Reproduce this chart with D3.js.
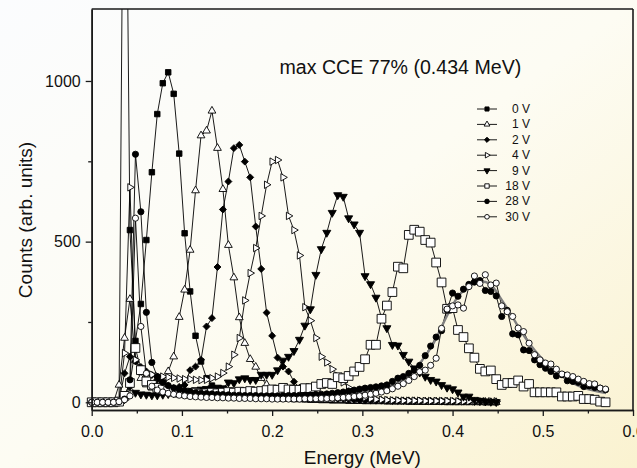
<!DOCTYPE html>
<html>
<head>
<meta charset="utf-8">
<script src="https://cdn.jsdelivr.net/npm/d3@7"></script>
<style>
  html, body { margin: 0; padding: 0; }
  body { width: 637px; height: 468px; overflow: hidden; }
  svg { display: block; font-family: "Liberation Sans", Arial, sans-serif; }
</style>
</head>
<body>
<svg id="chart" width="637" height="468"></svg>
<script>
// channel energies (MeV)
var energy = [
  0, 0.0061, 0.0121, 0.0182, 0.0242, 0.0303, 0.0364, 0.0424, 0.0485, 0.0545,
  0.0606, 0.0667, 0.0727, 0.0788, 0.0848, 0.0909, 0.0970, 0.1030, 0.1091, 0.1151,
  0.1212, 0.1273, 0.1333, 0.1394, 0.1454, 0.1515, 0.1576, 0.1636, 0.1697, 0.1757,
  0.1818, 0.1879, 0.1939, 0.2000, 0.2060, 0.2121, 0.2182, 0.2242, 0.2303, 0.2363,
  0.2424, 0.2485, 0.2545, 0.2606, 0.2666, 0.2727, 0.2788, 0.2848, 0.2909, 0.2969,
  0.3030, 0.3091, 0.3151, 0.3212, 0.3272, 0.3333, 0.3394, 0.3454, 0.3515, 0.3575,
  0.3636, 0.3697, 0.3757, 0.3818, 0.3878, 0.3939, 0.4000, 0.4060, 0.4121, 0.4181,
  0.4242, 0.4303, 0.4363, 0.4424, 0.4484, 0.4545, 0.4606, 0.4666, 0.4727, 0.4787,
  0.4848, 0.4909, 0.4969, 0.5030, 0.5090, 0.5151, 0.5212, 0.5272, 0.5333, 0.5393,
  0.5454, 0.5515, 0.5575, 0.5636, 0.5696
];

// counts per channel for each bias voltage
var counts0V = [
  0, 0, 0, 0, 0, 2, 2300, 536, 191, 306,
  505, 716, 897, 993, 1027, 960, 774, 526, 345, 207,
  127, 75, 52, 42, 36, 32, 28, 25, 22, 20,
  18, 16, 15, 14, 13, 12, 11, 10, 10, 9,
  8, 8, 7, 7, 6, 6, 6, 5, 5, 5,
  4, 4, 4, 4, 3, 3, 3, 3, 2, 2,
  2, 2, 2, 2, 2, 1, 1, 1, 1, 1,
  1, 1, 0, 0, 0
];
var counts1V = [
  0, 0, 0, 0, 0, 54, 200, 321, 130, 75,
  55, 45, 45, 70, 96, 142, 265, 350, 474, 659,
  830, 845, 907, 791, 663, 489, 388, 264, 184, 134,
  110, 75, 55, 40, 32, 26, 22, 18, 15, 13,
  11, 10, 9, 8, 8, 7, 6, 6, 5, 5,
  5, 4, 4, 4, 4, 3, 3, 3, 3, 3,
  2, 2, 2, 2, 2, 2, 1, 1, 1, 1,
  1, 1, 1, 0, 0
];
var counts2V = [
  0, 0, 0, 0, 0, 5, 90, 142, 127, 110,
  96, 85, 70, 60, 51, 44, 48, 54, 100, 111,
  132, 236, 262, 421, 600, 687, 791, 801, 749, 700,
  547, 415, 279, 207, 139, 111, 96, 64, 45, 35,
  28, 22, 18, 15, 13, 11, 10, 9, 8, 7,
  6, 6, 5, 5, 5, 4, 4, 4, 4, 3,
  3, 3, 3, 3, 2, 2, 2, 2, 2, 2,
  1, 1, 1, 1, 1
];
var counts4V = [
  0, 0, 0, 0, 0, 5, 153, 669, 132, 96,
  91, 86, 82, 80, 78, 76, 74, 72, 72, 70,
  69, 70, 75, 80, 91, 111, 148, 200, 317, 402,
  480, 580, 677, 749, 754, 700, 580, 536, 457, 296,
  254, 200, 142, 124, 103, 82, 62, 45, 32, 22,
  15, 11, 9, 8, 7, 6, 6, 5, 5, 5,
  5, 4, 4, 4, 4, 4, 4, 3, 3, 3,
  3, 3, 3, 3, 3
];
var counts9V = [
  0, 0, 0, 0, 0, 2, 10, 50, 30, 25,
  24, 22, 22, 24, 26, 28, 30, 33, 36, 38,
  40, 42, 44, 46, 44, 62, 60, 72, 75, 70,
  70, 86, 86, 86, 100, 130, 142, 160, 195, 239,
  290, 397, 477, 528, 590, 645, 640, 573, 554, 528,
  393, 368, 326, 262, 231, 179, 177, 148, 127, 106,
  93, 80, 70, 65, 54, 46, 41, 31, 18, 18,
  8, 5, 3, 2, 1
];
var counts18V = [
  0, 0, 0, 0, 0, 2, 20, 60, 169, 100,
  65, 54, 45, 40, 36, 33, 30, 30, 28, 30,
  27, 28, 30, 28, 30, 32, 30, 33, 32, 35,
  33, 35, 38, 40, 39, 45, 40, 39, 39, 44,
  44, 49, 57, 60, 57, 78, 75, 82, 96, 110,
  134, 179, 179, 260, 301, 343, 422, 417, 521, 537,
  531, 505, 497, 435, 373, 291, 293, 225, 203, 168,
  139, 104, 96, 99, 72, 54, 60, 60, 68, 49,
  57, 31, 31, 31, 31, 31, 18, 18, 18, 20,
  10, 10, 8, 2, 0
];
var counts28V = [
  0, 0, 0, 0, 0, 2, 10, 70, 772, 593,
  280, 124, 80, 62, 52, 45, 40, 36, 33, 30,
  28, 27, 26, 25, 24, 23, 22, 22, 21, 21,
  21, 20, 20, 20, 20, 20, 21, 21, 22, 22,
  23, 24, 25, 26, 28, 30, 32, 35, 38, 41,
  44, 46, 48, 51, 54, 65, 75, 80, 90, 100,
  115, 145, 175, 203, 223, 288, 340, 330, 352, 367,
  374, 379, 348, 345, 331, 267, 286, 213, 210, 163,
  161, 132, 117, 106, 96, 82, 86, 67, 65, 62,
  49, 51, 46, 44, 39
];
var counts30V = [
  0, 0, 0, 0, 0, 2, 8, 20, 573, 236,
  90, 50, 38, 32, 28, 25, 22, 20, 18, 17,
  16, 15, 15, 14, 14, 13, 13, 12, 12, 12,
  11, 11, 11, 10, 10, 10, 10, 10, 10, 11,
  11, 11, 12, 12, 13, 14, 15, 16, 18, 20,
  22, 25, 28, 32, 36, 42, 50, 58, 68, 80,
  95, 100, 115, 137, 230, 290, 300, 303, 293, 360,
  393, 370, 397, 365, 371, 300, 282, 267, 231, 220,
  184, 148, 132, 122, 119, 103, 88, 85, 80, 72,
  65, 58, 57, 44, 41
];

// gray fit through the 30 V spectrum
var fitEnergy = [0.17, 0.20, 0.25, 0.28, 0.30, 0.32, 0.335, 0.349, 0.364, 0.379,
  0.394, 0.405, 0.414, 0.424, 0.434, 0.445, 0.453, 0.464, 0.475, 0.486,
  0.497, 0.508, 0.519, 0.533, 0.547, 0.56, 0.57];
var fitCounts = [22, 23, 25, 28, 33, 42, 55, 80, 122, 184,
  270, 325, 352, 370, 375, 358, 325, 277, 225, 180,
  142, 110, 86, 60, 43, 34, 29];

var legendLabels = ["0 V", "1 V", "2 V", "4 V", "9 V", "18 V", "28 V", "30 V"];
var xTicks = [0, 0.1, 0.2, 0.3, 0.4, 0.5, 0.6];
var xMinorTicks = [0.05, 0.15, 0.25, 0.35, 0.45, 0.55];
var yTicks = [0, 500, 1000];
var yMinorTicks = [250, 750];
var note = "max CCE 77% (0.434 MeV)";

var seriesValues = [counts0V, counts1V, counts2V, counts4V, counts9V, counts18V, counts28V, counts30V];

// marker look per series
var markerStyles = [
  { type: d3.symbolSquare, size: 30, fill: "#000", rotate: 0 },
  { type: d3.symbolTriangle, size: 26, fill: "#fff", rotate: 0 },
  { type: d3.symbolSquare, size: 24, fill: "#000", rotate: 45 },
  { type: d3.symbolTriangle, size: 24, fill: "#fff", rotate: 90 },
  { type: d3.symbolTriangle, size: 28, fill: "#000", rotate: 180 },
  { type: d3.symbolSquare, size: 76, fill: "#fff", rotate: 0 },
  { type: d3.symbolCircle, size: 30, fill: "#000", rotate: 0 },
  { type: d3.symbolCircle, size: 30, fill: "#fff", rotate: 0 }
];

var W = 637, H = 468;
var plot = { left: 91.7, right: 633, top: 9, bottom: 410 };

var x = d3.scaleLinear().domain([0, 0.6]).range([plot.left, plot.right]);
var y = d3.scaleLinear().domain([-24, 1224]).range([plot.bottom, plot.top]);

var svg = d3.select("#chart");
var defs = svg.append("defs");

// soft background
var grad = defs.append("linearGradient")
  .attr("id", "bg")
  .attr("x1", "0").attr("y1", "0")
  .attr("x2", "1").attr("y2", "1");
grad.append("stop").attr("offset", "0%").attr("stop-color", "#fbfcfe");
grad.append("stop").attr("offset", "50%").attr("stop-color", "#fdfcf3");
grad.append("stop").attr("offset", "100%").attr("stop-color", "#faf2d0");

svg.append("rect")
  .attr("width", W).attr("height", H)
  .attr("fill", "url(#bg)");

defs.append("clipPath").attr("id", "clip")
  .append("rect")
  .attr("x", 0).attr("y", plot.top)
  .attr("width", W).attr("height", H - plot.top);

var dataGroup = svg.append("g").attr("clip-path", "url(#clip)");

// fit curve
var fitLine = d3.line()
  .x(function (d, i) { return x(fitEnergy[i]); })
  .y(function (d) { return y(d); })
  .curve(d3.curveMonotoneX);

var line = d3.line()
  .x(function (d, i) { return x(energy[i]); })
  .y(function (d) { return y(d); });

seriesValues.forEach(function (vals, k) {
  dataGroup.append("path")
    .datum(vals)
    .attr("fill", "none")
    .attr("stroke", "#000")
    .attr("stroke-width", 0.9)
    .attr("d", line);
});

dataGroup.append("path")
  .datum(fitCounts)
  .attr("fill", "none")
  .attr("stroke", "#7f7f7f")
  .attr("stroke-width", 2.4)
  .attr("d", fitLine);

function drawMarker(g, st, px, py, scale) {
  g.append("path")
    .attr("d", d3.symbol().type(st.type).size(st.size * scale * scale)())
    .attr("transform", "translate(" + px + "," + py + ") rotate(" + st.rotate + ")")
    .attr("fill", st.fill)
    .attr("stroke", "#000")
    .attr("stroke-width", 0.9);
}

seriesValues.forEach(function (vals, k) {
  var g = dataGroup.append("g");
  vals.forEach(function (v, i) {
    drawMarker(g, markerStyles[k], x(energy[i]), y(v), 1);
  });
});

// frame and axes
var axisColor = "#1a1a1a";
svg.append("line")
  .attr("x1", plot.left).attr("x2", plot.right)
  .attr("y1", plot.top).attr("y2", plot.top)
  .attr("stroke", axisColor).attr("stroke-width", 1.6);
svg.append("line")
  .attr("x1", plot.right).attr("x2", plot.right)
  .attr("y1", plot.top).attr("y2", plot.bottom)
  .attr("stroke", axisColor).attr("stroke-width", 1.6);

svg.append("g")
  .attr("transform", "translate(0," + plot.bottom + ")")
  .call(d3.axisBottom(x).tickValues(xTicks).tickFormat(d3.format(".1f")).tickSize(6).tickSizeOuter(0).tickPadding(10));
svg.append("g")
  .attr("transform", "translate(0," + plot.bottom + ")")
  .call(d3.axisBottom(x).tickValues(xMinorTicks).tickFormat("").tickSize(3.5).tickSizeOuter(0));

svg.append("g")
  .attr("transform", "translate(" + plot.left + ",0)")
  .call(d3.axisLeft(y).tickValues(yTicks).tickFormat(d3.format("d")).tickSize(6).tickSizeOuter(0).tickPadding(5));
svg.append("g")
  .attr("transform", "translate(" + plot.left + ",0)")
  .call(d3.axisLeft(y).tickValues(yMinorTicks).tickFormat("").tickSize(3.5).tickSizeOuter(0));

svg.selectAll(".domain").attr("stroke", axisColor).attr("stroke-width", 1.6);
svg.selectAll(".tick line").attr("stroke", axisColor).attr("stroke-width", 1.3);
svg.selectAll(".tick text")
  .attr("fill", "#111")
  .style("font-family", "'Liberation Sans', Arial, sans-serif")
  .style("font-size", "16px");

// titles
svg.append("text")
  .attr("x", (plot.left + plot.right) / 2)
  .attr("y", 464)
  .attr("text-anchor", "middle")
  .attr("font-size", 19)
  .attr("fill", "#111")
  .text("Energy (MeV)");

svg.append("text")
  .attr("transform", "translate(32,220) rotate(-90)")
  .attr("text-anchor", "middle")
  .attr("font-size", 19)
  .attr("fill", "#111")
  .text("Counts (arb. units)");

svg.append("text")
  .attr("x", 279.5)
  .attr("y", 74)
  .attr("font-size", 19.6)
  .attr("fill", "#111")
  .text(note);

// legend
var legend = svg.append("g");
legendLabels.forEach(function (lab, i) {
  var ly = 109 + i * 15.4;
  legend.append("line")
    .attr("x1", 477).attr("x2", 497)
    .attr("y1", ly).attr("y2", ly)
    .attr("stroke", "#000").attr("stroke-width", 0.9);
  drawMarker(legend, markerStyles[i], 487, ly, i === 5 ? 0.5 : 0.75);
  legend.append("text")
    .attr("x", 530)
    .attr("y", ly + 4)
    .attr("text-anchor", "end")
    .attr("font-size", 12)
    .attr("fill", "#111")
    .text(lab);
});
</script>
</body>
</html>
